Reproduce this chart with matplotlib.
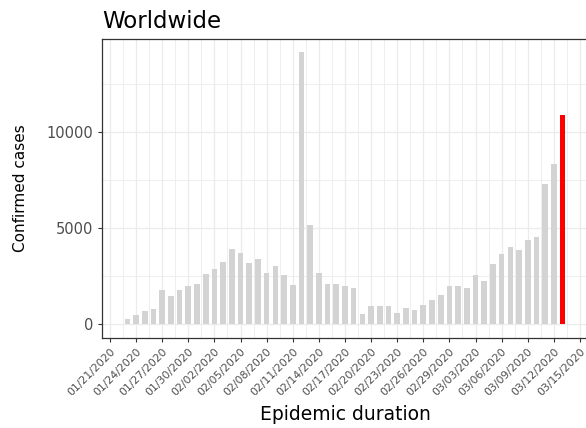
import numpy as np
import pandas as pd
import matplotlib
matplotlib.use("Agg")
import matplotlib.pyplot as plt
import matplotlib.dates as mdates

# daily confirmed cases, worldwide, 01/23/2020 .. 03/13/2020
start_date = "2020-01-23"
confirmed = [295, 470, 695, 800, 1770, 1490, 1760, 2000, 2100, 2620,
             2860, 3260, 3940, 3710, 3190, 3420, 2670, 3020, 2570, 2050,
             14180, 5170, 2670, 2100, 2100, 2000, 1890, 520, 970, 970,
             970, 575, 850, 745, 1025, 1250, 1530, 2000, 2000, 1875,
             2570, 2270, 3125, 3645, 4045, 3870, 4390, 4550, 7290, 8370,
             10920]
tick_start = "2020-01-21"
tick_end = "2020-03-15"

dates = pd.date_range(start_date, periods=len(confirmed), freq="D")
x = mdates.date2num(dates.to_pydatetime())
y = np.array(confirmed)

fig = plt.figure(figsize=(5.86, 4.28), dpi=100)
ax = fig.add_axes([0.174, 0.2103, 0.835, 0.698])

# grid first so bars sit on top
major_ticks = mdates.date2num(pd.date_range(tick_start, tick_end, freq="3D").to_pydatetime())
minor_ticks = major_ticks[:-1] + 1.5
ax.set_xticks(major_ticks)
ax.set_xticks(minor_ticks, minor=True)
ax.set_yticks([0, 5000, 10000])
ax.set_yticks([2500, 7500, 12500], minor=True)
ax.grid(which="major", color="#EBEBEB", lw=0.9)
ax.grid(which="minor", color="#EBEBEB", lw=0.6)
ax.set_axisbelow(True)

ax.bar(x[:-1], y[:-1], width=0.65, color="#D3D3D3")
ax.bar(x[-1:], y[-1:], width=0.55, color="#FF0000")

ax.set_xlim(major_ticks[0] - 0.92, major_ticks[-1] + 1.3)
ax.set_ylim(-713, 14843)

ax.xaxis.set_major_formatter(mdates.DateFormatter("%m/%d/%Y"))
for lab in ax.get_xticklabels():
    lab.set_rotation(45)
    lab.set_ha("right")
    lab.set_va("top")
    lab.set_rotation_mode("anchor")

ax.tick_params(which="major", length=3, width=0.8, color="#333333",
               labelcolor="#4D4D4D", pad=3)
ax.tick_params(axis="y", labelsize=10.5)
ax.tick_params(axis="x", labelsize=7.8)
ax.tick_params(which="minor", length=0)
for s in ax.spines.values():
    s.set_color("#333333")
    s.set_linewidth(0.9)

ax.set_title("Worldwide", loc="left", fontsize=16.5, pad=8)
ax.set_xlabel("Epidemic duration", fontsize=13.5)
ax.set_ylabel("Confirmed cases", fontsize=11)
ax.xaxis.set_label_coords(0.497, -0.225)
ax.yaxis.set_label_coords(-0.152, 0.5)

fig.savefig("out.png", dpi=100)
